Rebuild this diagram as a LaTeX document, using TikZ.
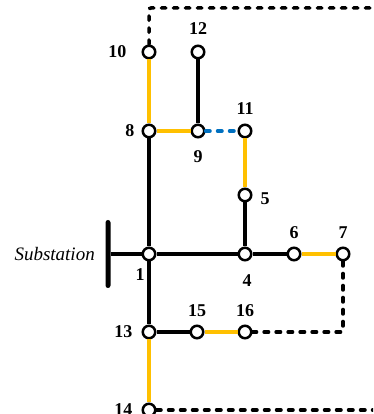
\documentclass[tikz,border=0pt]{standalone}
\usepackage{fontspec}
\setmainfont{Liberation Serif}
\usetikzlibrary{positioning}
\definecolor{feedY}{HTML}{FFC000}
\definecolor{tieB}{HTML}{0070C0}

\begin{document}
\begin{tikzpicture}[x=1pt,y=1pt,on grid,
    bus/.style={circle,draw,line width=2.5pt,fill=white,minimum size=12.5pt,inner sep=0pt},
    lbl/.style={font=\fontsize{18}{18}\selectfont\bfseries,inner sep=0pt},
    line/.style={draw,line width=3.2pt},
    sw/.style={draw=feedY,line width=3.2pt},
    tie/.style={draw,line width=3.5pt,dash pattern=on 4.5pt off 7.5pt,line cap=round,rounded corners=2pt}]
    \useasboundingbox (0,0) rectangle (373,414);
    \clip (0,0) rectangle (373,414);

      \node[bus,label={[lbl,xshift=-9pt,yshift=-7pt]below:1}] (n1) at (149,160) {};
      \node[bus,label={[lbl,xshift=-7pt]left:8}]  (n8)  [above=123pt of n1] {};
      \node[bus,label={[lbl,xshift=-15pt]left:10}] (n10) [above=79pt of n8] {};
      \node[bus,label={[lbl,yshift=-12pt]below:9}] (n9)  [right=49pt of n8] {};
      \node[bus,label={[lbl,yshift=10pt]above:12}] (n12) [above=79pt of n9] {};
      \node[bus,label={[lbl,yshift=9pt]above:11}] (n11) [right=47pt of n9] {};
      \node[bus,label={[lbl,xshift=2pt,yshift=-12.5pt]below:4}] (n4) [right=96pt of n1] {};
      \node[bus,label={[lbl,xshift=8pt,yshift=-4pt]right:5}] (n5) [above=59pt of n4] {};
      \node[bus,label={[lbl,yshift=8pt]above:6}] (n6) [right=49pt of n4] {};
      \node[bus,label={[lbl,yshift=8pt]above:7}] (n7) [right=49pt of n6] {};
      \node[bus,label={[lbl,xshift=-9pt]left:13}] (n13) [below=78pt of n1] {};
      \node[bus,label={[lbl,yshift=8pt]above:15}] (n15) [right=48pt of n13] {};
      \node[bus,label={[lbl,yshift=8pt]above:16}] (n16) [right=48pt of n15] {};
      \node[bus,label={[lbl,xshift=-9pt]left:14}] (n14) [below=78pt of n13] {};

      % substation bar
      \node[fill,rounded corners=2.5pt,minimum width=5pt,minimum height=68pt,inner sep=0pt,
            label={[font=\fontsize{19}{19}\selectfont\itshape,xshift=-7pt]left:Substation}]
            (sub) [left=41pt of n1] {};

      % open tie paths
      \coordinate[above=44pt of n10] (t10);
      \coordinate[right=240pt of t10] (t10r);
      \coordinate[right=240pt of n14] (t14r);
      \coordinate (t7) at (n7 |- n16);

      \path (sub) edge[line] (n1)
            (n1) edge[line] (n8)
                 edge[line] (n4)
                 edge[line] (n13)
            (n8) edge[sw]   (n10)
                 edge[sw]   (n9)
            (n9) edge[line] (n12)
            (n11) edge[sw]  (n5)
            (n5) edge[line] (n4)
            (n4) edge[line] (n6)
            (n6) edge[sw]   (n7)
            (n13) edge[line] (n15)
                  edge[sw]   (n14)
            (n15) edge[sw]   (n16);

      \draw[tie] (n10) -- (t10) -- (t10r);
      \draw[tie] (n7) -- (t7) -- (n16);
      \draw[tie] (n14) -- (t14r);
      \draw[tie,draw=tieB] (n9) -- (n11);
    \end{tikzpicture}
\end{document}
